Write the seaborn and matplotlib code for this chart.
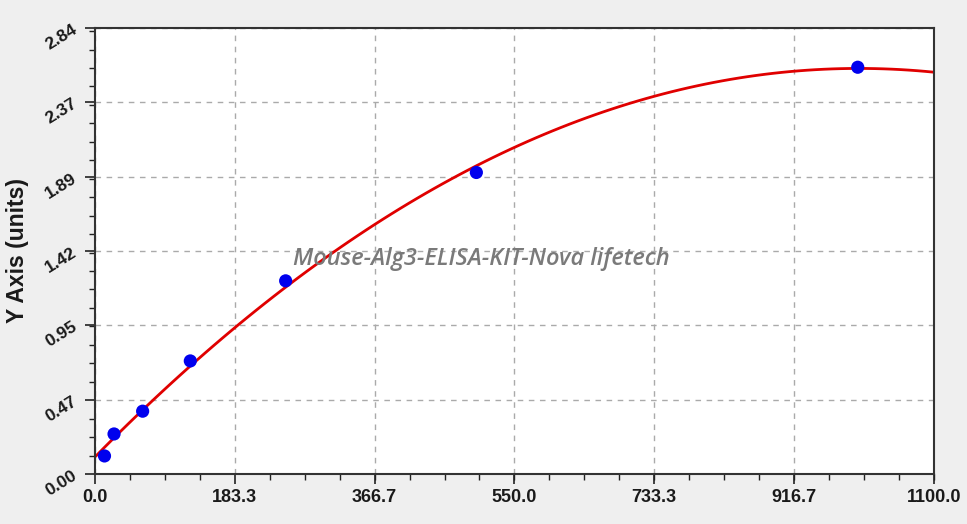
import numpy as np
import pandas as pd
import seaborn as sns
import matplotlib.pyplot as plt
from matplotlib.ticker import FixedLocator, AutoMinorLocator

# standard concentrations and measured OD
conc = [12.5, 25, 62.5, 125, 250, 500, 1000]
od = [0.115, 0.255, 0.40, 0.72, 1.23, 1.92, 2.59]
x_ticks = [0.0, 183.3, 366.7, 550.0, 733.3, 916.7, 1100.0]
y_ticks = [0.00, 0.47, 0.95, 1.42, 1.89, 2.37, 2.84]

df = pd.DataFrame({'conc': conc, 'od': od})

sns.set_style('white')
plt.rcParams['font.family'] = ['Liberation Sans', 'DejaVu Sans']

fig = plt.figure(figsize=(9.67, 5.24), dpi=100, facecolor='#efefef')
ax = fig.add_axes([0.0982, 0.0954, 0.8677, 0.8512])
ax.set_xlim(0, 1100)
ax.set_ylim(0, 2.84)

# quadratic standard curve through the points
sns.regplot(x='conc', y='od', data=df, order=2, ci=None, truncate=False,
            scatter=False, line_kws={'color': '#e00000', 'lw': 2}, ax=ax)
sns.scatterplot(x='conc', y='od', data=df, color='#0000ee', s=90,
                edgecolor='none', zorder=5, ax=ax)

ax.set_xlim(0, 1100)
ax.set_ylim(0, 2.84)
ax.xaxis.set_major_locator(FixedLocator(x_ticks))
ax.yaxis.set_major_locator(FixedLocator(y_ticks))
ax.set_xticklabels([f'{v:.1f}' for v in x_ticks], fontweight='bold', fontsize=13,
                   color='#1a1a1a')
ax.set_yticklabels([f'{v:.2f}' for v in y_ticks], fontweight='bold', fontsize=12.5,
                   rotation=32, color='#1a1a1a')
ax.xaxis.set_minor_locator(AutoMinorLocator(4))
ax.yaxis.set_minor_locator(AutoMinorLocator(4))
ax.tick_params(which='major', direction='out', length=7, width=1.2,
               color='#222222', bottom=True, left=True, pad=4)
ax.tick_params(which='minor', direction='out', length=4, width=1,
               color='#222222', bottom=True, left=True)
ax.grid(True, which='major', linestyle=(0, (4, 4)), color='#aaaaaa', lw=1)
for s in ax.spines.values():
    s.set_color('#333333')
    s.set_linewidth(1.5)

ax.set_xlabel('')
ax.set_ylabel('Y Axis (units)', fontweight='bold', fontsize=16.5, labelpad=10,
              color='#1a1a1a')

ax.text(0.461, 0.483, 'Mouse-Alg3-ELISA-KIT-Nova lifetech', transform=ax.transAxes,
        ha='center', va='center', fontsize=17, style='italic', color='#7a7a7a',
        weight='semibold', family=['Open Sans', 'DejaVu Sans'])

fig.savefig('out.png', dpi=100, facecolor=fig.get_facecolor())
